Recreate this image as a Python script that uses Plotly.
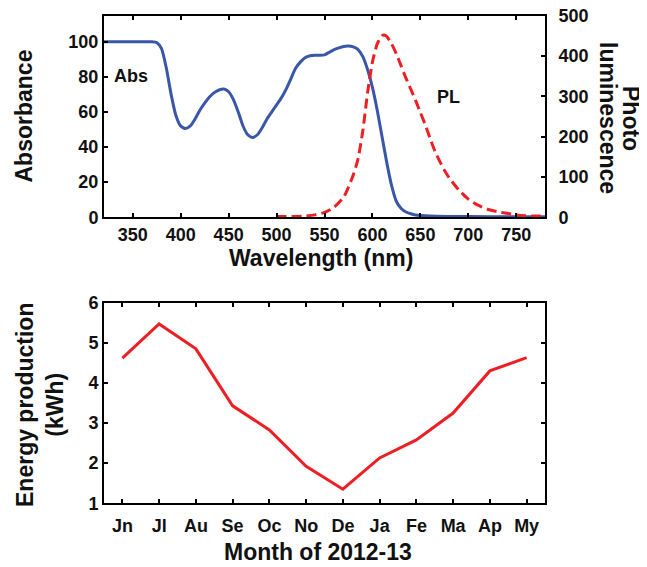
import plotly.graph_objects as go

# ---------------- data ----------------
wavelength_abs = [320, 330, 340, 350, 360, 370, 375, 380, 385, 390, 395, 400, 405, 410, 415,
                  420, 425, 430, 435, 440, 445, 450, 455, 460, 465, 470, 475, 480, 485, 490,
                  495, 500, 505, 510, 515, 520, 525, 530, 535, 540, 545, 550, 555, 560, 565,
                  570, 575, 580, 585, 590, 595, 600, 605, 610, 615, 620, 625, 630, 635, 640,
                  645, 650, 660, 680, 700, 750, 780]
absorbance = [100, 100, 100, 100, 100, 100, 99.5, 96, 85, 70, 58, 52, 50.5, 52, 56,
              61, 65, 68.5, 71, 72.5, 73, 71.5, 67, 60, 52, 47, 45.5, 47, 51, 56,
              60, 64, 68, 73, 79, 85, 88.5, 91, 92, 92.3, 92.3, 92.5, 94, 95.5, 96.5,
              97.3, 97.5, 97, 95.5, 91.5, 84, 74, 61, 46, 31, 18, 9, 5, 3, 2,
              1.3, 1, 0.7, 0.5, 0.4, 0.3, 0.3]

wavelength_pl = [500, 510, 520, 530, 540, 550, 560, 570, 575, 580, 585, 590, 595, 600, 605,
                 610, 612, 615, 620, 625, 630, 635, 640, 645, 650, 655, 660, 665, 670, 675,
                 680, 690, 700, 710, 720, 730, 740, 750, 760, 770, 780]
photoluminescence = [2, 2, 2, 3, 6, 12, 25, 50, 75, 105, 145, 215, 310, 385, 430,
                     450, 452, 448, 430, 405, 375, 345, 318, 290, 260, 230, 197, 165, 140, 117,
                     98, 68, 45, 30, 20, 14, 10, 6, 4, 3, 3]

months = ["Jn", "Jl", "Au", "Se", "Oc", "No", "De", "Ja", "Fe", "Ma", "Ap", "My"]
energy = [4.62, 5.47, 4.85, 3.43, 2.83, 1.92, 1.35, 2.13, 2.58, 3.25, 4.3, 4.63]

x_ticks_wl = [350, 400, 450, 500, 550, 600, 650, 700, 750]
y_ticks_abs = [0, 20, 40, 60, 80, 100]
y_ticks_pl = [0, 100, 200, 300, 400, 500]
y_ticks_energy = [1, 2, 3, 4, 5, 6]

# ---------------- layout helpers ----------------
W, H = 647, 567
OFF = 8  # page body margin
FONT = "Liberation Sans, Arial, sans-serif"
BLUE = "#3a56a8"
RED = "#ee1f24"


def px(x):
    return (x - OFF) / W


def py(y):
    return 1 - (y - OFF) / H


tick_font = dict(family=FONT, size=18, color="#111111", weight="bold")
title_font = dict(family=FONT, size=23, color="#111111", weight="bold")

axis_common = dict(showgrid=False, zeroline=False, showline=True, linewidth=2,
                   linecolor="black", ticks="inside", ticklen=4, tickwidth=1.5,
                   tickcolor="black", tickfont=tick_font, automargin=False,
                   ticklabeloverflow="allow")

fig = go.Figure()
fig.add_trace(go.Scatter(x=wavelength_abs, y=absorbance, mode="lines",
                         line=dict(color=BLUE, width=3, shape="spline", smoothing=0.6),
                         xaxis="x", yaxis="y", hoverinfo="skip"))
fig.add_trace(go.Scatter(x=wavelength_pl, y=photoluminescence, mode="lines",
                         line=dict(color=RED, width=3, dash="10px,5px", shape="spline", smoothing=0.6),
                         xaxis="x", yaxis="y2", hoverinfo="skip"))
fig.add_trace(go.Scatter(x=months, y=energy, mode="lines",
                         line=dict(color=RED, width=3),
                         xaxis="x2", yaxis="y3", hoverinfo="skip"))

xdom = [px(104), px(545)]
fig.update_layout(
    template="none",
    width=W, height=H,
    margin=dict(l=0, r=0, t=0, b=0, pad=0),
    paper_bgcolor="white", plot_bgcolor="white",
    showlegend=False,
    xaxis=dict(domain=xdom, anchor="y", range=[320, 780], tickvals=x_ticks_wl,
               mirror="ticks", **axis_common),
    yaxis=dict(domain=[py(217.3), py(15.7)], anchor="x", range=[0, 114.8],
               tickvals=y_ticks_abs, **axis_common),
    yaxis2=dict(overlaying="y", anchor="x", side="right", range=[0, 500],
                tickvals=y_ticks_pl, ticklabelstandoff=8, **axis_common),
    xaxis2=dict(domain=xdom, anchor="y3", type="category", range=[-0.5, 11.5],
                mirror="ticks", ticklabelstandoff=5, **axis_common),
    yaxis3=dict(domain=[py(503.3), py(302.7)], anchor="x2", range=[1, 6],
                tickvals=y_ticks_energy, mirror="ticks", **axis_common),
)

annotations = [
    dict(text="Absorbance", x=px(24), y=py(116.5), textangle=-90, font=title_font),
    dict(text="luminescence", x=px(608), y=py(118), textangle=90, font=title_font),
    dict(text="Photo", x=px(631), y=py(118), textangle=90, font=title_font),
    dict(text="Wavelength (nm)", x=px(321), y=py(258), font=title_font),
    dict(text="Energy production<br>(kWh)", x=px(40), y=py(405), textangle=-90, font=title_font),
    dict(text="Month of 2012-13", x=px(318), y=py(552), font=title_font),
]
for a in annotations:
    a.update(xref="paper", yref="paper", xanchor="center", yanchor="middle", showarrow=False)
    fig.add_annotation(**a)

fig.add_annotation(text="Abs", x=347.8, y=80.5, xref="x", yref="y", showarrow=False,
                   font=dict(family=FONT, size=18, color="#111111", weight="bold"))
fig.add_annotation(text="PL", x=679.7, y=68.5, xref="x", yref="y", showarrow=False,
                   font=dict(family=FONT, size=18, color="#111111", weight="bold"))

fig.write_html("out.html")
